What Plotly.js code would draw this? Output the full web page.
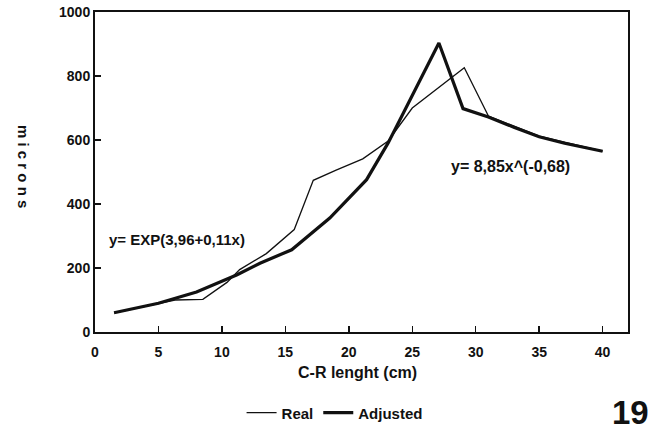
<!DOCTYPE html>
<html><head><meta charset="utf-8">
<script src="https://cdn.plot.ly/plotly-3.0.1.min.js"></script>
<style>html,body{margin:0;padding:0;background:#fff;}#chart{width:661px;height:434px;}</style>
</head><body><div id="chart"></div>
<script>
// Real (observed) series
var realX = [1.5, 5, 6.3, 8.5, 10.4, 11.4, 13.5, 15.7, 17.2, 19.0, 21.1, 23.1, 25.0, 29.1, 31.0, 35.0, 40.0];
var realY = [60, 88, 100, 102, 155, 195, 245, 320, 474, 506, 541, 597, 700, 826, 675, 612, 565];
// Adjusted (fitted) series
var adjX = [1.5, 5, 8, 11.2, 13, 15.5, 18.5, 21.4, 23.1, 25, 27.1, 29.0, 31.0, 33, 35.0, 37, 40.0];
var adjY = [60, 90, 125, 179, 215, 257, 356, 476, 591, 740, 903, 698, 672, 640, 610, 590, 565];
var xTicks = [0, 5, 10, 15, 20, 25, 30, 35, 40];
var yTicks = [0, 200, 400, 600, 800, 1000];
var eq1 = "y= EXP(3,96+0,11x)";
var eq2 = "y= 8,85x^(-0,68)";
var yTitleLetters = ["m", "i", "c", "r", "o", "n", "s"];
var xTitle = "C-R lenght (cm)";
var figNo = "19";

var F = "Liberation Sans, Arial, sans-serif";
var C = "#111";
var traces = [
  {x: realX, y: realY, type: "scatter", mode: "lines", name: "Real",
   line: {color: C, width: 1.3}},
  {x: adjX, y: adjY, type: "scatter", mode: "lines", name: "Adjusted",
   line: {color: C, width: 3.2}}
];
var layout = {
  width: 661, height: 434,
  margin: {l: 95, r: 33, t: 12, b: 102, autoexpand: false},
  paper_bgcolor: "#fff", plot_bgcolor: "#fff",
  font: {family: F, color: C, size: 13, weight: "bold"},
  showlegend: true,
  legend: {orientation: "h", x: 0.275, y: -0.253, xanchor: "left", yanchor: "middle",
           font: {family: F, size: 15, color: C, weight: "bold"}, itemwidth: 30,
           bgcolor: "rgba(0,0,0,0)"},
  xaxis: {range: [0, 42], tickvals: xTicks, ticktext: xTicks.map(String),
          showline: true, mirror: true, linecolor: C, linewidth: 2,
          ticks: "inside", ticklen: 6, tickwidth: 1.5, tickcolor: C,
          showgrid: false, zeroline: false, ticklabelstandoff: 6, automargin: false,
          tickfont: {family: F, size: 14, color: C, weight: "bold"}},
  yaxis: {range: [0, 1000], tickvals: yTicks, ticktext: yTicks.map(String),
          showline: true, mirror: true, linecolor: C, linewidth: 2,
          ticks: "inside", ticklen: 6, tickwidth: 1.5, tickcolor: C,
          showgrid: false, zeroline: false, automargin: false,
          tickfont: {family: F, size: 14, color: C, weight: "bold"}},
  annotations: [
    {x: 0.95, y: 288, xref: "x", yref: "y", text: eq1, showarrow: false, xanchor: "left",
     font: {family: F, size: 15, color: C, weight: "bold"}},
    {x: 27.9, y: 517, xref: "x", yref: "y", text: eq2, showarrow: false, xanchor: "left",
     font: {family: F, size: 16, color: C, weight: "bold"}},
    {x: -0.155, y: 0.516, xref: "paper", yref: "paper",
     text: yTitleLetters.join("\u00a0"), showarrow: false,
     textangle: 90, font: {family: F, size: 15, color: C, weight: "bold"}},
    {x: 0.492, y: -0.125, xref: "paper", yref: "paper", text: xTitle, showarrow: false,
     yanchor: "middle", font: {family: F, size: 16, color: C, weight: "bold"}},
    {x: 1.043, y: -0.253, xref: "paper", yref: "paper", text: figNo, showarrow: false,
     xanchor: "right", yanchor: "middle", font: {family: F, size: 33, color: C, weight: "bold"}}
  ]
};
Plotly.newPlot("chart", traces, layout, {displayModeBar: false, staticPlot: true});
</script>
</body></html>
